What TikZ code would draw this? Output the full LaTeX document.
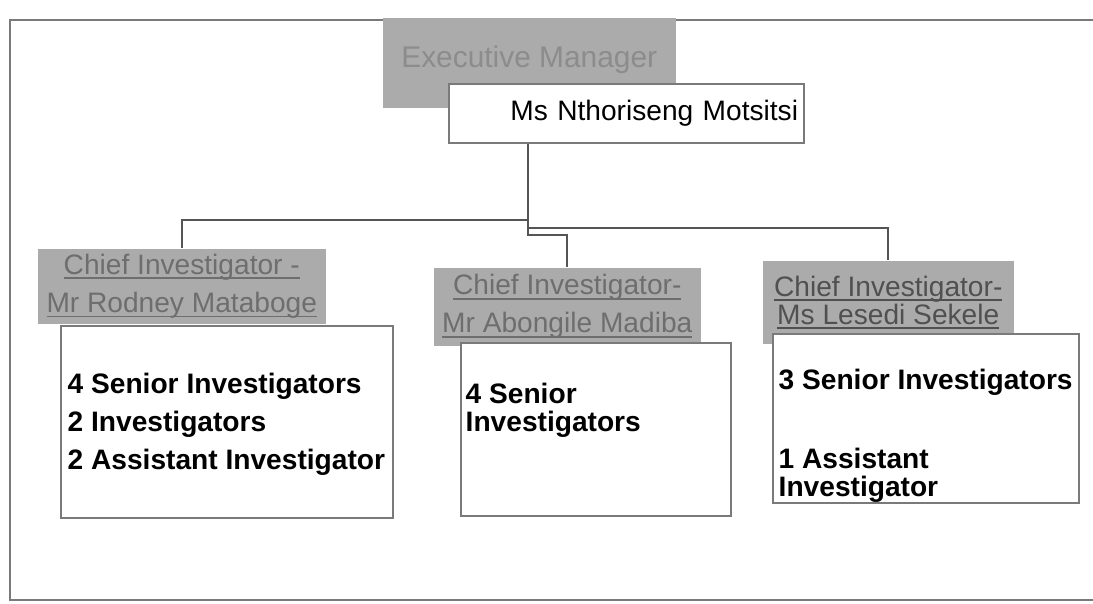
\documentclass[tikz,border=0pt]{standalone}
\usepackage{fontspec}
\setmainfont{Liberation Sans}
\usepackage{tikz}
\usetikzlibrary{positioning}

\definecolor{boxgray}{HTML}{ABABAB}
\definecolor{execgray}{HTML}{8C8C8C}
\definecolor{chiefgray}{HTML}{6E6E6E}
\definecolor{darkgray}{HTML}{505050}
\definecolor{edgegray}{HTML}{7A7A7A}
\definecolor{linkgray}{HTML}{555555}

% underline that runs through the descenders
\newcommand{\wordline}[1]{\leavevmode\setbox0\hbox{#1}\rlap{\rule[-1.3pt]{\wd0}{0.45pt}}\box0}

\begin{document}
\begin{tikzpicture}[x=0.01cm,y=-0.01cm,
  headbox/.style={fill=boxgray,anchor=north west,inner sep=0pt,align=center,font=\fontsize{8}{11}\selectfont},
  namebox/.style={draw=edgegray,fill=white,anchor=north west,line width=0.5pt},
  staff/.style={inner sep=0pt,align=left,font=\bfseries\fontsize{8}{8}\selectfont},
  link/.style={draw=linkgray,line width=0.6pt}]
\useasboundingbox (0,0) rectangle (1093,604);
\draw[edgegray,line width=0.6pt] (1093,20) -- (10,20) -- (10,600) -- (1093,600);

\node[headbox,minimum width=2.93cm,minimum height=0.9cm,text=execgray,font=\fontsize{8.5}{10}\selectfont] (exec) at (382,17) {\raisebox{3.5pt}{Executive Manager}};
\node[namebox,minimum width=3.55cm,minimum height=0.59cm,text width=3.43cm,inner xsep=0.06cm,align=right,font=\fontsize{8}{10}\selectfont] (ceo) at (448,83) {Ms Nthoriseng Motsitsi};

\node[headbox,minimum width=2.88cm,minimum height=0.75cm,text=chiefgray] (chief_1) at (37,248) {\wordline{Chief Investigator -}\\\wordline{Mr Rodney Mataboge}};
\node[headbox,minimum width=2.67cm,minimum height=0.78cm,text=chiefgray,font=\fontsize{8}{10.8}\selectfont] (chief_2) at (433,267) {\wordline{Chief Investigator-}\\\wordline{Mr Abongile Madiba}};
\node[headbox,minimum width=2.51cm,minimum height=0.83cm,text=darkgray,font=\fontsize{8}{8}\selectfont] (chief_3) at (762,260) {\wordline{Chief Investigator-}\\\wordline{Ms Lesedi Sekele}};

\node[namebox,minimum width=3.32cm,minimum height=1.92cm] (team_1) at (60,325) {};
\node[namebox,minimum width=2.70cm,minimum height=1.73cm] (team_2) at (460,342) {};
\node[namebox,minimum width=3.06cm,minimum height=1.69cm] (team_3) at (772,333) {};

\node[staff] (staff_1) [below right=0.47cm and 0.07cm of team_1.north west] {4 Senior Investigators\\[2.8pt]2 Investigators\\[2.8pt]2 Assistant Investigator};
\node[staff] (staff_2) [below right=0.40cm and 0.05cm of team_2.north west] {4 Senior\\Investigators};
\node[staff] (staff_3) [below right=0.35cm and 0.06cm of team_3.north west] {3 Senior Investigators\\[14.5pt]1 Assistant\\Investigator};

\coordinate (hub) at (528,235);
\coordinate (split_1) at (528,220);
\coordinate (split_3) at (528,228);
\draw[link] (ceo.south -| hub) -- (hub) -| (chief_2.north);
\draw[link] (split_1) -| (chief_1.north);
\draw[link] (split_3) -| (chief_3.north);
\end{tikzpicture}
\end{document}
